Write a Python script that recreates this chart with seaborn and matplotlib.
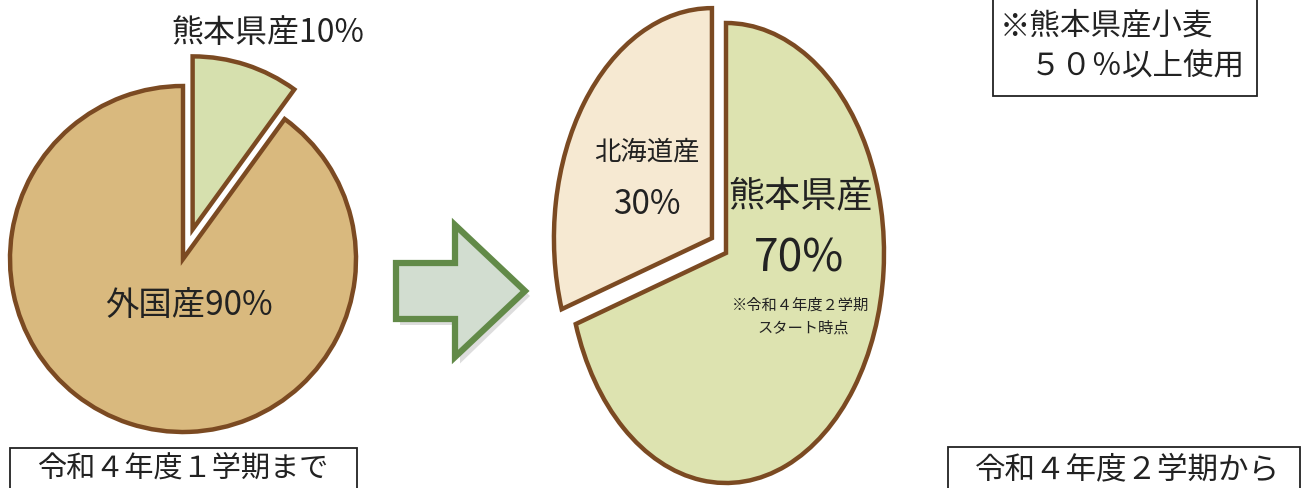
import matplotlib
matplotlib.use("Agg")
import matplotlib.pyplot as plt
from matplotlib.patches import FancyArrow, Rectangle
import seaborn as sns

sns.set_theme(style="white")
plt.rcParams['font.family'] = ['Noto Sans CJK JP', 'DejaVu Sans']

# ---- data ----
left_labels = ["熊本県産", "外国産"]
left_values = [10, 90]
right_labels = ["熊本県産", "北海道産"]
right_values = [70, 30]
left_title = "令和４年度１学期まで"
right_title = "令和４年度２学期から"
note_box = ["※熊本県産小麦", "　５０％以上使用"]
note_small = ["※令和４年度２学期", "スタート時点"]

# ---- style ----
EDGE = "#7B4A22"
left_colors = ["#D6E0AE", "#D9B97E"]
right_colors = ["#DDE3B0", "#F6E9D2"]

W, H = 1305, 488
fig = plt.figure(figsize=(W / 100, H / 100), dpi=100)
fig.patch.set_facecolor("white")

# right pie: elliptical axes (x unit = 158 px, y unit = 230 px)
cx, cy = 726, H - 253
rx, ry = 158, 230
lim = 1.3
axr = fig.add_axes([(cx - lim * rx) / W, (cy - lim * ry) / H,
                    2 * lim * rx / W, 2 * lim * ry / H])
axr.pie(right_values, colors=right_colors, startangle=90, counterclock=False,
        explode=[0.0, 0.11],
        wedgeprops=dict(edgecolor=EDGE, linewidth=3.2))
axr.set_aspect("auto")
axr.set_xlim(-lim, lim)
axr.set_ylim(-lim, lim)
axr.axis("off")

# overlay axes in pixel coordinates (y up)
ax = fig.add_axes([0, 0, 1, 1], zorder=5)
ax.set_facecolor("none")
R_LEFT = 173
ax.pie(left_values, colors=left_colors, startangle=90, counterclock=False,
       explode=[0.18 * R_LEFT, 0.0], center=(183, H - 259), radius=R_LEFT,
       frame=True, wedgeprops=dict(edgecolor=EDGE, linewidth=3.2))
ax.set_aspect("auto")
ax.set_xlim(0, W)
ax.set_ylim(0, H)
ax.axis("off")

# arrow with shadow
ax.add_patch(FancyArrow(400, H - 296, 130, 0, width=58, head_width=135,
                        head_length=70, length_includes_head=True,
                        facecolor="#BDBDBD", edgecolor="none", alpha=0.5))
ax.add_patch(FancyArrow(396, H - 291, 129, 0, width=56, head_width=132,
                        head_length=70, length_includes_head=True,
                        facecolor="#D2DDD0", edgecolor="#628A48", linewidth=4.5,
                        joinstyle="miter"))

# pie labels
TXT = "#222222"
ax.text(268, H - 33, left_labels[0] + f"{left_values[0]}%", fontsize=23,
        ha="center", va="center", color=TXT)
ax.text(189, H - 305, left_labels[1] + f"{left_values[1]}%", fontsize=24,
        ha="center", va="center", color=TXT)
ax.text(647, H - 152, right_labels[1], fontsize=19, ha="center", va="center",
        color=TXT)
ax.text(647, H - 204, f"{right_values[1]}%", fontsize=24, ha="center",
        va="center", color=TXT)
ax.text(800, H - 197, right_labels[0], fontsize=26, ha="center", va="center",
        color=TXT)
ax.text(799, H - 258, f"{right_values[0]}%", fontsize=32, ha="center",
        va="center", color=TXT)
ax.text(800, H - 305, note_small[0], fontsize=11, ha="center", va="center",
        color=TXT)
ax.text(803, H - 328, note_small[1], fontsize=11, ha="center", va="center",
        color=TXT)

# boxes
def box(x0, y0, x1, y1):
    ax.add_patch(Rectangle((x0, H - y1), x1 - x0, y1 - y0, facecolor="white",
                           edgecolor=TXT, linewidth=1.3, zorder=6))

box(10, 448, 357, 495)
ax.text(183, H - 470, left_title, fontsize=21, ha="center", va="center",
        color=TXT, zorder=7)
box(948, 447, 1300, 495)
ax.text(1127, H - 470, right_title, fontsize=22, ha="center", va="center",
        color=TXT, zorder=7)
box(993, -5, 1257, 96)
ax.text(1000, H - 26, note_box[0], fontsize=22, ha="left", va="center",
        color=TXT, zorder=7)
ax.text(1000, H - 67, note_box[1], fontsize=22, ha="left", va="center",
        color=TXT, zorder=7)

fig.savefig("out.png", dpi=100, facecolor="white")
